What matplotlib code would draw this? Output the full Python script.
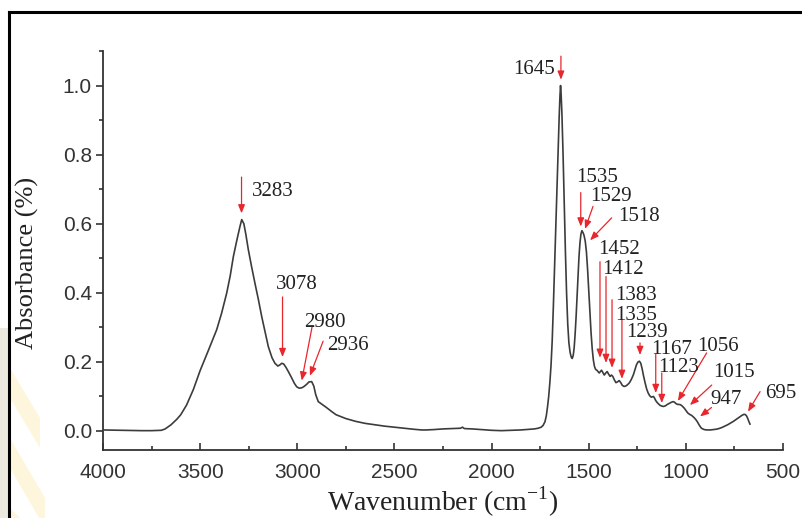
import numpy as np
import matplotlib
matplotlib.use("Agg")
import matplotlib.pyplot as plt
from matplotlib.lines import Line2D
from matplotlib.patches import Rectangle, Polygon
from matplotlib.ticker import MultipleLocator, FixedLocator

plt.rcParams["mathtext.fontset"] = "custom"
plt.rcParams["mathtext.rm"] = "Liberation Serif"

# ---- spectrum (wavenumber in cm^-1, absorbance) ----
wavenumber = [
    4000, 3900, 3800, 3750, 3700, 3680, 3650, 3620, 3600, 3570, 3535, 3500,
    3460, 3415, 3390, 3363, 3345, 3329, 3310, 3295, 3286, 3275, 3265, 3252,
    3235, 3218, 3200, 3183, 3165, 3149, 3130, 3115, 3100, 3088, 3080, 3070,
    3058, 3046, 3030, 3015, 3003, 2990, 2977, 2965, 2952, 2940, 2926, 2915,
    2905, 2892, 2870, 2850, 2820, 2800, 2750, 2700, 2650, 2600, 2550, 2500,
    2450, 2400, 2360, 2340, 2300, 2250, 2200, 2160, 2150, 2140, 2100, 2050,
    2000, 1950, 1900, 1850, 1800, 1780, 1760, 1745, 1735, 1725, 1718, 1712,
    1706, 1700, 1694, 1688, 1682, 1676, 1670, 1664, 1658, 1652, 1648, 1645,
    1642, 1638, 1632, 1626, 1620, 1614, 1608, 1602, 1596, 1590, 1585, 1580,
    1575, 1570, 1565, 1560, 1555, 1550, 1545, 1540, 1535, 1529, 1524, 1518,
    1512, 1506, 1500, 1494, 1488, 1482, 1476, 1470, 1464, 1458, 1452, 1446,
    1440, 1434, 1428, 1420, 1412, 1405, 1398, 1390, 1383, 1376, 1368, 1360,
    1352, 1343, 1335, 1327, 1318, 1310, 1300, 1290, 1280, 1270, 1262, 1254,
    1246, 1239, 1232, 1225, 1218, 1210, 1202, 1194, 1186, 1178, 1172, 1167,
    1162, 1155, 1147, 1140, 1132, 1123, 1115, 1105, 1095, 1085, 1075, 1066,
    1060, 1056, 1050, 1043, 1036, 1028, 1020, 1015, 1008, 1000, 990, 980,
    970, 960, 950, 940, 930, 920, 905, 890, 875, 860, 845, 830,
    815, 800, 785, 770, 755, 740, 725, 712, 702, 695, 688, 682,
    676, 670,
]
absorbance = [
    0.003, 0.002, 0.001, 0.001, 0.002, 0.006, 0.018, 0.034, 0.047, 0.075, 0.120, 0.175,
    0.230, 0.293, 0.340, 0.400, 0.450, 0.505, 0.555, 0.592, 0.612, 0.600, 0.570, 0.525,
    0.475, 0.428, 0.380, 0.331, 0.285, 0.244, 0.212, 0.196, 0.188, 0.192, 0.196, 0.194,
    0.184, 0.172, 0.155, 0.138, 0.128, 0.124, 0.125, 0.129, 0.135, 0.142, 0.143, 0.130,
    0.105, 0.085, 0.076, 0.068, 0.055, 0.047, 0.036, 0.028, 0.022, 0.018, 0.014, 0.011,
    0.008, 0.005, 0.003, 0.003, 0.004, 0.006, 0.007, 0.008, 0.011, 0.007, 0.006, 0.004,
    0.002, 0.001, 0.002, 0.003, 0.005, 0.006, 0.008, 0.011, 0.016, 0.027, 0.045, 0.070,
    0.100, 0.140, 0.190, 0.260, 0.360, 0.470, 0.580, 0.690, 0.800, 0.910, 0.970, 1.000,
    0.975, 0.920, 0.800, 0.660, 0.520, 0.400, 0.310, 0.255, 0.228, 0.214, 0.210, 0.218,
    0.240, 0.280, 0.330, 0.390, 0.450, 0.505, 0.545, 0.570, 0.580, 0.574, 0.566, 0.550,
    0.520, 0.470, 0.410, 0.345, 0.285, 0.238, 0.205, 0.186, 0.178, 0.176, 0.172, 0.168,
    0.172, 0.176, 0.170, 0.162, 0.168, 0.172, 0.165, 0.158, 0.162, 0.158, 0.148, 0.140,
    0.142, 0.146, 0.140, 0.132, 0.129, 0.130, 0.134, 0.140, 0.150, 0.163, 0.178, 0.192,
    0.200, 0.202, 0.196, 0.180, 0.160, 0.140, 0.122, 0.110, 0.102, 0.098, 0.099, 0.100,
    0.096, 0.088, 0.082, 0.078, 0.074, 0.072, 0.071, 0.073, 0.077, 0.080, 0.083, 0.085,
    0.084, 0.082, 0.079, 0.077, 0.077, 0.076, 0.073, 0.070, 0.066, 0.060, 0.052, 0.048,
    0.045, 0.040, 0.034, 0.026, 0.016, 0.008, 0.004, 0.003, 0.003, 0.004, 0.005, 0.007,
    0.010, 0.014, 0.018, 0.023, 0.028, 0.034, 0.040, 0.045, 0.048, 0.048, 0.044, 0.037,
    0.028, 0.020,
]

# ---- labelled bands ----
peak_labels = [3283, 3078, 2980, 2936, 1645, 1535, 1529, 1518, 1452, 1412,
               1383, 1335, 1239, 1167, 1123, 1056, 1015, 947, 695]

x_ticks = [4000, 3500, 3000, 2500, 2000, 1500, 1000, 500]
y_ticks = [0.0, 0.2, 0.4, 0.6, 0.8, 1.0]

# label placement: text anchor (x, y, ha), arrow tail (x, y), arrow tip (x, y)
layout = {
    3283: ((3233, 0.693, "left"), (3287, 0.735), (3287, 0.630)),
    3078: ((3004, 0.423, "center"), (3076, 0.388), (3076, 0.214)),
    2980: ((2965, 0.315, "left"), (2923, 0.304), (2977, 0.146)),
    2936: ((2845, 0.248, "left"), (2867, 0.260), (2935, 0.160)),
    1645: ((1674, 1.046, "right"), (1643, 1.085), (1643, 1.017)),
    1535: ((1562, 0.733, "left"), (1541, 0.690), (1541, 0.592)),
    1529: ((1493, 0.679, "left"), (1478, 0.650), (1519, 0.585)),
    1518: ((1349, 0.621, "left"), (1382, 0.617), (1493, 0.552)),
    1452: ((1452, 0.525, "left"), (1442, 0.490), (1442, 0.212)),
    1412: ((1433, 0.467, "left"), (1411, 0.447), (1411, 0.197)),
    1383: ((1365, 0.391, "left"), (1380, 0.380), (1380, 0.183)),
    1335: ((1365, 0.333, "left"), (1329, 0.322), (1329, 0.151)),
    1239: ((1305, 0.286, "left"), (1236, 0.255), (1236, 0.220)),
    1167: ((1176, 0.236, "left"), (1155, 0.222), (1155, 0.110)),
    1123: ((1143, 0.184, "left"), (1124, 0.168), (1124, 0.081)),
    1056: ((944, 0.244, "left"), (893, 0.226), (1041, 0.087)),
    1015: ((860, 0.169, "left"), (867, 0.133), (979, 0.075)),
    947: ((876, 0.090, "left"), (868, 0.068), (927, 0.042)),
    695: ((592, 0.110, "left"), (618, 0.114), (680, 0.056)),
}

W, H = 803, 518
fig = plt.figure(figsize=(W / 100, H / 100), dpi=100)
fig.patch.set_facecolor("white")

# outer frame, margin strip and faint background stripes
fig.add_artist(Rectangle((0, 0), 8 / W, 190 / H, transform=fig.transFigure,
                         facecolor="#ece9df", edgecolor="none", zorder=0))
for x0, y0, x1, y1 in [(10, 150, 40, 100), (10, 80, 45, 20), (10, 10, 30, -10)]:
    fig.add_artist(Polygon([(x0 / W, y0 / H), (x1 / W, y1 / H), (x1 / W, (y1 - 30) / H),
                            (x0 / W, (y0 - 30) / H)], closed=True,
                           transform=fig.transFigure, facecolor="#fdf6dc",
                           edgecolor="none", zorder=0))
fig.add_artist(Line2D([9.5 / W, 9.5 / W], [0, 1 - 11.5 / H], transform=fig.transFigure,
                      color="black", lw=2.2, solid_capstyle="projecting"))
fig.add_artist(Line2D([9.5 / W, 1.0], [1 - 11.5 / H, 1 - 11.5 / H], transform=fig.transFigure,
                      color="black", lw=2.2, solid_capstyle="projecting"))

ax = fig.add_axes([103 / W, 1 - 450 / H, 680 / W, 399 / H])
ax.set_facecolor("none")

ax.plot(wavenumber, absorbance, color="#3c3c3c", lw=1.2, zorder=3)

ax.set_xlim(4000, 500)
ax.set_ylim(-0.055, 1.10)

for side in ("top", "right"):
    ax.spines[side].set_visible(False)
for side in ("left", "bottom"):
    ax.spines[side].set_color("#333333")
    ax.spines[side].set_linewidth(1.3)

ax.xaxis.set_major_locator(FixedLocator(x_ticks))
ax.xaxis.set_minor_locator(MultipleLocator(250))
ax.yaxis.set_major_locator(FixedLocator(y_ticks))
ax.yaxis.set_minor_locator(MultipleLocator(0.1))
ax.set_xticklabels([str(t) for t in x_ticks])
ax.set_yticklabels([f"{t:.1f}" for t in y_ticks])

ax.tick_params(axis="x", which="major", direction="in", length=5, width=1.2,
               color="#333333", labelsize=15, labelcolor="#333333", pad=9)
ax.tick_params(axis="x", which="minor", direction="in", length=3, width=1.2, color="#333333")
ax.tick_params(axis="y", which="major", direction="out", length=5, width=1.2,
               color="#333333", labelsize=15, labelcolor="#333333", pad=3)
ax.tick_params(axis="y", which="minor", direction="out", length=3, width=1.2, color="#333333")
for lab in ax.get_xticklabels() + ax.get_yticklabels():
    lab.set_family("Liberation Sans")

serif = "Liberation Serif"
ax.set_xlabel("Wavenumber (cm$^{\\mathregular{-1}}$)", family=serif, fontsize=20,
              color="#222222", labelpad=2)
ax.set_ylabel("Absorbance (%)", family=serif, fontsize=19, color="#222222")
ax.yaxis.set_label_coords(-0.094, 0.47)

red = "#e8262c"
for p in peak_labels:
    (tx, ty, ha), tail, tip = layout[p]
    ax.annotate("", xy=tip, xytext=tail,
                arrowprops=dict(arrowstyle="-|>,head_length=0.5,head_width=0.2",
                                color=red, lw=0.9, shrinkA=0, shrinkB=0), zorder=4)
    ax.text(tx, ty, str(p), family=serif, fontsize=15, color="#222222",
            ha=ha, va="center", zorder=5)

fig.savefig("out.png", dpi=100)
